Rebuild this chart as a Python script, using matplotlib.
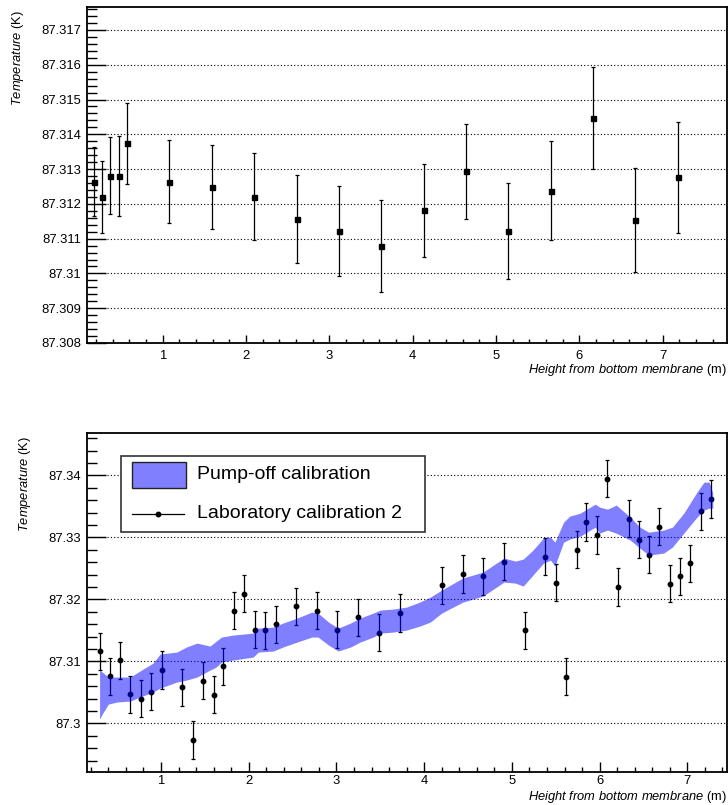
import matplotlib
matplotlib.use("Agg")
import matplotlib.pyplot as plt
from matplotlib.ticker import MultipleLocator, FuncFormatter, FixedLocator
from matplotlib.patches import Rectangle
from matplotlib.lines import Line2D

plt.rcParams['font.family'] = ['Liberation Sans', 'DejaVu Sans']
plt.rcParams['mathtext.fontset'] = 'custom'
plt.rcParams['mathtext.rm'] = 'Liberation Sans'
plt.rcParams['mathtext.it'] = 'Liberation Sans:italic'

# ---------------- data: top panel ----------------
top_x = [0.17, 0.27, 0.37, 0.47, 0.57, 1.08, 1.59, 2.10, 2.61, 3.11,
         3.62, 4.13, 4.64, 5.14, 5.66, 6.16, 6.67, 7.18]
top_y = [87.31264, 87.31219, 87.31281, 87.31281, 87.31374, 87.31264, 87.31248,
         87.31221, 87.31157, 87.31123, 87.31079, 87.31181, 87.31294, 87.31122,
         87.31238, 87.31447, 87.31153, 87.31276]
top_err = [0.00100, 0.00104, 0.00110, 0.00115, 0.00116, 0.00120, 0.00120,
           0.00124, 0.00127, 0.00129, 0.00131, 0.00134, 0.00137, 0.00139,
           0.00143, 0.00147, 0.00149, 0.00160]

# ---------------- data: bottom panel ----------------
lab_x = [0.30, 0.42, 0.53, 0.65, 0.77, 0.89, 1.01, 1.24, 1.36, 1.48, 1.60,
         1.71, 1.83, 1.95, 2.07, 2.19, 2.31, 2.54, 2.78, 3.01, 3.25, 3.49,
         3.73, 4.20, 4.44, 4.67, 4.91, 5.15, 5.38, 5.50, 5.62, 5.74, 5.85,
         5.97, 6.09, 6.21, 6.33, 6.45, 6.56, 6.68, 6.80, 6.92, 7.03, 7.16, 7.27]
lab_y = [87.3116, 87.3076, 87.3102, 87.3047, 87.3040, 87.3051, 87.3086,
         87.3058, 87.2973, 87.3069, 87.3046, 87.3092, 87.3182, 87.3209,
         87.3151, 87.3150, 87.3160, 87.3189, 87.3182, 87.3151, 87.3171,
         87.3146, 87.3178, 87.3223, 87.3241, 87.3237, 87.3261, 87.3150,
         87.3269, 87.3227, 87.3075, 87.3280, 87.3325, 87.3304, 87.3395,
         87.3220, 87.3330, 87.3296, 87.3272, 87.3317, 87.3225, 87.3237,
         87.3258, 87.3342, 87.3362]
lab_err = [0.0030, 0.0030, 0.0030, 0.0030, 0.0030, 0.0030, 0.0030,
           0.0030, 0.0030, 0.0030, 0.0030, 0.0030, 0.0030, 0.0030, 0.0030,
           0.0030, 0.0030, 0.0030, 0.0030, 0.0030, 0.0030, 0.0030, 0.0030,
           0.0030, 0.0030, 0.0030, 0.0030, 0.0030, 0.0030, 0.0030, 0.0030,
           0.0030, 0.0030, 0.0030, 0.0030, 0.0030, 0.0030, 0.0030, 0.0030,
           0.0030, 0.0030, 0.0030, 0.0030, 0.0030, 0.0030]

band_x = [0.30, 0.33, 0.40, 0.50, 0.65, 0.76, 0.91, 0.99, 1.18, 1.29, 1.41,
          1.56, 1.63, 1.69, 1.82, 2.05, 2.11, 2.28, 2.39, 2.55, 2.72, 2.79,
          2.91, 3.02, 3.16, 3.27, 3.42, 3.50, 3.65, 3.80, 3.95, 4.07, 4.20,
          4.44, 4.67, 4.91, 5.04, 5.13, 5.24, 5.36, 5.44, 5.49, 5.59, 5.66,
          5.78, 5.95, 6.00, 6.09, 6.19, 6.35, 6.46, 6.56, 6.73, 6.83, 6.96,
          7.11, 7.19, 7.25, 7.29]
band_hi = [87.30860, 87.30827, 87.30747, 87.30747, 87.30747, 87.30844, 87.30973,
           87.31118, 87.31150, 87.31231, 87.31295, 87.31247, 87.31327, 87.31392,
           87.31424, 87.31456, 87.31537, 87.31553, 87.31618, 87.31698, 87.31795,
           87.31779, 87.31634, 87.31537, 87.31618, 87.31698, 87.31779, 87.31827,
           87.31844, 87.31876, 87.31956, 87.32037, 87.32150, 87.32344, 87.32440,
           87.32666, 87.32618, 87.32650, 87.32795, 87.32989, 87.33005, 87.32924,
           87.33247, 87.33344, 87.33392, 87.33537, 87.33489, 87.33456, 87.33521,
           87.33327, 87.33166, 87.33085, 87.33118, 87.33166, 87.33392, 87.33731,
           87.33892, 87.33892, 87.33715]
band_lo = [87.30069, 87.30150, 87.30311, 87.30344, 87.30360, 87.30424, 87.30505,
           87.30569, 87.30666, 87.30698, 87.30747, 87.30860, 87.30908, 87.30989,
           87.31021, 87.31069, 87.31150, 87.31166, 87.31231, 87.31311, 87.31392,
           87.31392, 87.31263, 87.31166, 87.31231, 87.31311, 87.31392, 87.31456,
           87.31473, 87.31505, 87.31569, 87.31634, 87.31779, 87.31956, 87.32053,
           87.32279, 87.32263, 87.32215, 87.32392, 87.32585, 87.32634, 87.32537,
           87.32924, 87.32973, 87.33021, 87.33166, 87.33069, 87.33118, 87.33069,
           87.32956, 87.32827, 87.32715, 87.32747, 87.32844, 87.33069, 87.33327,
           87.33440, 87.33473, 87.33473]

legend_labels = ["Pump-off calibration", "Laboratory calibration 2"]
ylabel = r"$\mathit{Temperature}$ (K)"
xlabel = r"$\mathit{Height\ from\ bottom\ membrane}$ (m)"

W, H = 728, 805
fig = plt.figure(figsize=(W / 100, H / 100), dpi=100)

def fmt(v, pos):
    s = "%.4f" % v
    s = s.rstrip('0').rstrip('.')
    return s

def style(ax, ymajor, yminor, xmaj_len, xmin_len, xpad):
    for sp in ax.spines.values():
        sp.set_linewidth(1.3)
    ax.xaxis.set_major_locator(FixedLocator([1, 2, 3, 4, 5, 6, 7]))
    ax.xaxis.set_minor_locator(MultipleLocator(0.2))
    ax.yaxis.set_major_locator(MultipleLocator(ymajor))
    ax.yaxis.set_minor_locator(MultipleLocator(yminor))
    ax.yaxis.set_major_formatter(FuncFormatter(fmt))
    ax.xaxis.set_major_formatter(FuncFormatter(lambda v, p: "%d" % round(v)))
    ax.tick_params(axis='y', which='major', direction='in', length=13.5, width=1.0,
                   labelsize=9.4, pad=4, right=False)
    ax.tick_params(axis='y', which='minor', direction='in', length=7, width=1.0, right=False)
    ax.tick_params(axis='x', which='major', direction='in', length=xmaj_len, width=1.0,
                   labelsize=9.4, pad=xpad, top=False)
    ax.tick_params(axis='x', which='minor', direction='in', length=xmin_len, width=1.0, top=False)
    ax.grid(True, axis='y', which='major', linestyle=(0, (1, 2)), color='black', linewidth=0.8)
    ax.grid(False, axis='x')

# ---------------- top panel ----------------
ax1 = fig.add_axes([87 / W, 1 - 343 / H, 640 / W, 336 / H])
ax1.errorbar(top_x, top_y, yerr=top_err, fmt='s', color='black', markersize=3.6,
             elinewidth=0.9, capsize=1.2, capthick=0.9, zorder=3)
ax1.set_xlim(0.092, 7.77)
ax1.set_ylim(87.308, 87.31766)
style(ax1, 0.001, 0.0002, 5.5, 2.6, 5)
ax1.text(1.0, -27 / 336, xlabel, transform=ax1.transAxes, ha='right', va='center',
         fontsize=9.3)
ax1.text(-0.108, 0.99, ylabel, transform=ax1.transAxes, ha='center', va='top',
         rotation=90, fontsize=9.3)

# ---------------- bottom panel ----------------
ax2 = fig.add_axes([86.7 / W, 1 - 772.3 / H, 640 / W, 339 / H])
ax2.errorbar(lab_x, lab_y, yerr=lab_err, fmt='o', color='black', markersize=3.2,
             elinewidth=0.9, capsize=1.2, capthick=0.9, zorder=2)
ax2.fill_between(band_x, band_lo, band_hi, color='blue', alpha=0.5, linewidth=0,
                 zorder=3)
ax2.set_xlim(0.153, 7.449)
ax2.set_ylim(87.2921, 87.3468)
style(ax2, 0.01, 0.002, 7.2, 3.6, 2.2)
ax2.text(1.0, -24.5 / 339, xlabel, transform=ax2.transAxes, ha='right', va='center',
         fontsize=9.3)
ax2.text(-0.0964, 0.99, ylabel, transform=ax2.transAxes, ha='center', va='top',
         rotation=90, fontsize=9.3)

# legend (drawn by hand in axes fraction)
box = Rectangle((0.0531, 0.708), 0.5286 - 0.0531, 0.933 - 0.708, transform=ax2.transAxes,
                facecolor='white', edgecolor='#333333', linewidth=1.2, zorder=5)
ax2.add_patch(box)
patch = Rectangle((0.0713, 0.8378), 0.1547 - 0.0713, 0.9162 - 0.8378,
                  transform=ax2.transAxes, facecolor='#8080ff', edgecolor='#222222',
                  linewidth=1.0, zorder=6)
ax2.add_patch(patch)
ax2.add_line(Line2D([0.0713, 0.1525], [0.7628, 0.7628], transform=ax2.transAxes,
                    color='black', linewidth=0.9, zorder=6))
ax2.add_line(Line2D([0.1119], [0.7628], transform=ax2.transAxes, marker='o',
                    markersize=3.2, color='black', zorder=7))
ax2.text(0.1723, 0.877, legend_labels[0], transform=ax2.transAxes, ha='left',
         va='center', fontsize=14, zorder=7)
ax2.text(0.1723, 0.7628, legend_labels[1], transform=ax2.transAxes, ha='left',
         va='center', fontsize=14, zorder=7)

fig.savefig("out.png", dpi=100)
